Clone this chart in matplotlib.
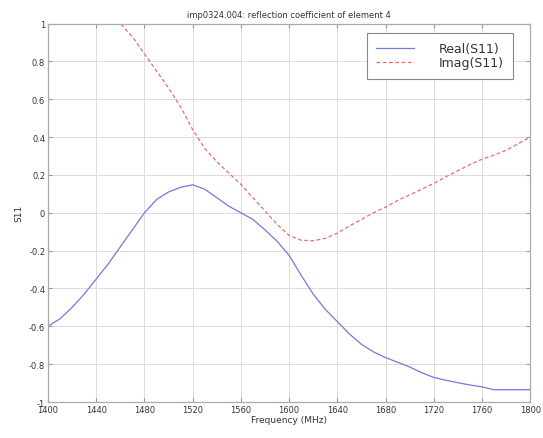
import matplotlib
matplotlib.use("Agg")
import matplotlib.pyplot as plt
import numpy as np

freq_real = [1400, 1410, 1420, 1430, 1440, 1450, 1460, 1470, 1480, 1490, 1500,
             1510, 1520, 1530, 1540, 1550, 1560, 1570, 1580, 1590, 1600, 1610,
             1620, 1630, 1640, 1650, 1660, 1670, 1680, 1690, 1700, 1710, 1720,
             1730, 1740, 1750, 1760, 1770, 1780, 1790, 1800]
real_s11 = [-0.60, -0.56, -0.50, -0.43, -0.35, -0.27, -0.18, -0.09, 0.0, 0.07, 0.11,
            0.135, 0.148, 0.125, 0.08, 0.035, 0.0, -0.035, -0.09, -0.15, -0.225, -0.33,
            -0.43, -0.51, -0.575, -0.64, -0.695, -0.735, -0.765, -0.79, -0.815, -0.845, -0.87,
            -0.885, -0.898, -0.91, -0.92, -0.935, -0.935, -0.935, -0.935]

freq_imag = [1450, 1460, 1470, 1480, 1490, 1500, 1510, 1520, 1530, 1540, 1550,
             1560, 1570, 1580, 1590, 1600, 1610, 1620, 1630, 1640, 1650, 1660,
             1670, 1680, 1690, 1700, 1710, 1720, 1730, 1740, 1750, 1760, 1770,
             1780, 1790, 1800]
imag_s11 = [1.07, 1.0, 0.93, 0.84, 0.75, 0.66, 0.56, 0.44, 0.34, 0.27, 0.21,
            0.15, 0.08, 0.01, -0.06, -0.12, -0.145, -0.148, -0.135, -0.108, -0.07, -0.035,
            0.0, 0.03, 0.065, 0.095, 0.125, 0.155, 0.19, 0.222, 0.255, 0.283, 0.305,
            0.33, 0.365, 0.40]

xticks = [1400, 1440, 1480, 1520, 1560, 1600, 1640, 1680, 1720, 1760, 1800]
yticks = [-1, -0.8, -0.6, -0.4, -0.2, 0, 0.2, 0.4, 0.6, 0.8, 1]
ytick_labels = ['-1', '-0.8', '-0.6', '-0.4', '-0.2', '0', '0.2', '0.4', '0.6', '0.8', '1']

fig = plt.figure(figsize=(5.43, 4.39), dpi=100)
ax = fig.add_axes([0.0884, 0.082, 0.888, 0.862])

ax.plot(freq_real, real_s11, color='#7878d8', lw=0.9, label='Real(S11)')
ax.plot(freq_imag, imag_s11, color='#e07070', lw=0.9, ls=(0, (3, 2)), label='Imag(S11)')

ax.set_xlim(1400, 1800)
ax.set_ylim(-1, 1)
ax.set_xticks(xticks)
ax.set_xticklabels([str(t) for t in xticks])
ax.set_yticks(yticks)
ax.set_yticklabels(ytick_labels)
ax.grid(True, color='#dcdcdc', lw=0.7)
ax.tick_params(direction='in', labelsize=6, length=3, color='#999999',
               top=True, right=True, labelcolor='#333333', pad=2)
for s in ax.spines.values():
    s.set_color('#aaaaaa')
    s.set_linewidth(0.9)

ax.set_title('imp0324.004: reflection coefficient of element 4', fontsize=6, color='#333333', pad=5)
ax.set_xlabel('Frequency (MHz)', fontsize=6.5, color='#333333', labelpad=1)
ax.set_ylabel('S11', fontsize=6.5, color='#333333', labelpad=4)

leg = ax.legend(loc='upper right', fontsize=9, handlelength=3.0, handletextpad=2.0,
                borderpad=0.75, labelspacing=0.1, fancybox=False, framealpha=1,
                edgecolor='#888888', bbox_to_anchor=(0.965, 0.976), borderaxespad=0)
leg.get_frame().set_linewidth(0.8)
for t in leg.get_texts():
    t.set_color('#333333')

fig.savefig('out.png', dpi=100)
